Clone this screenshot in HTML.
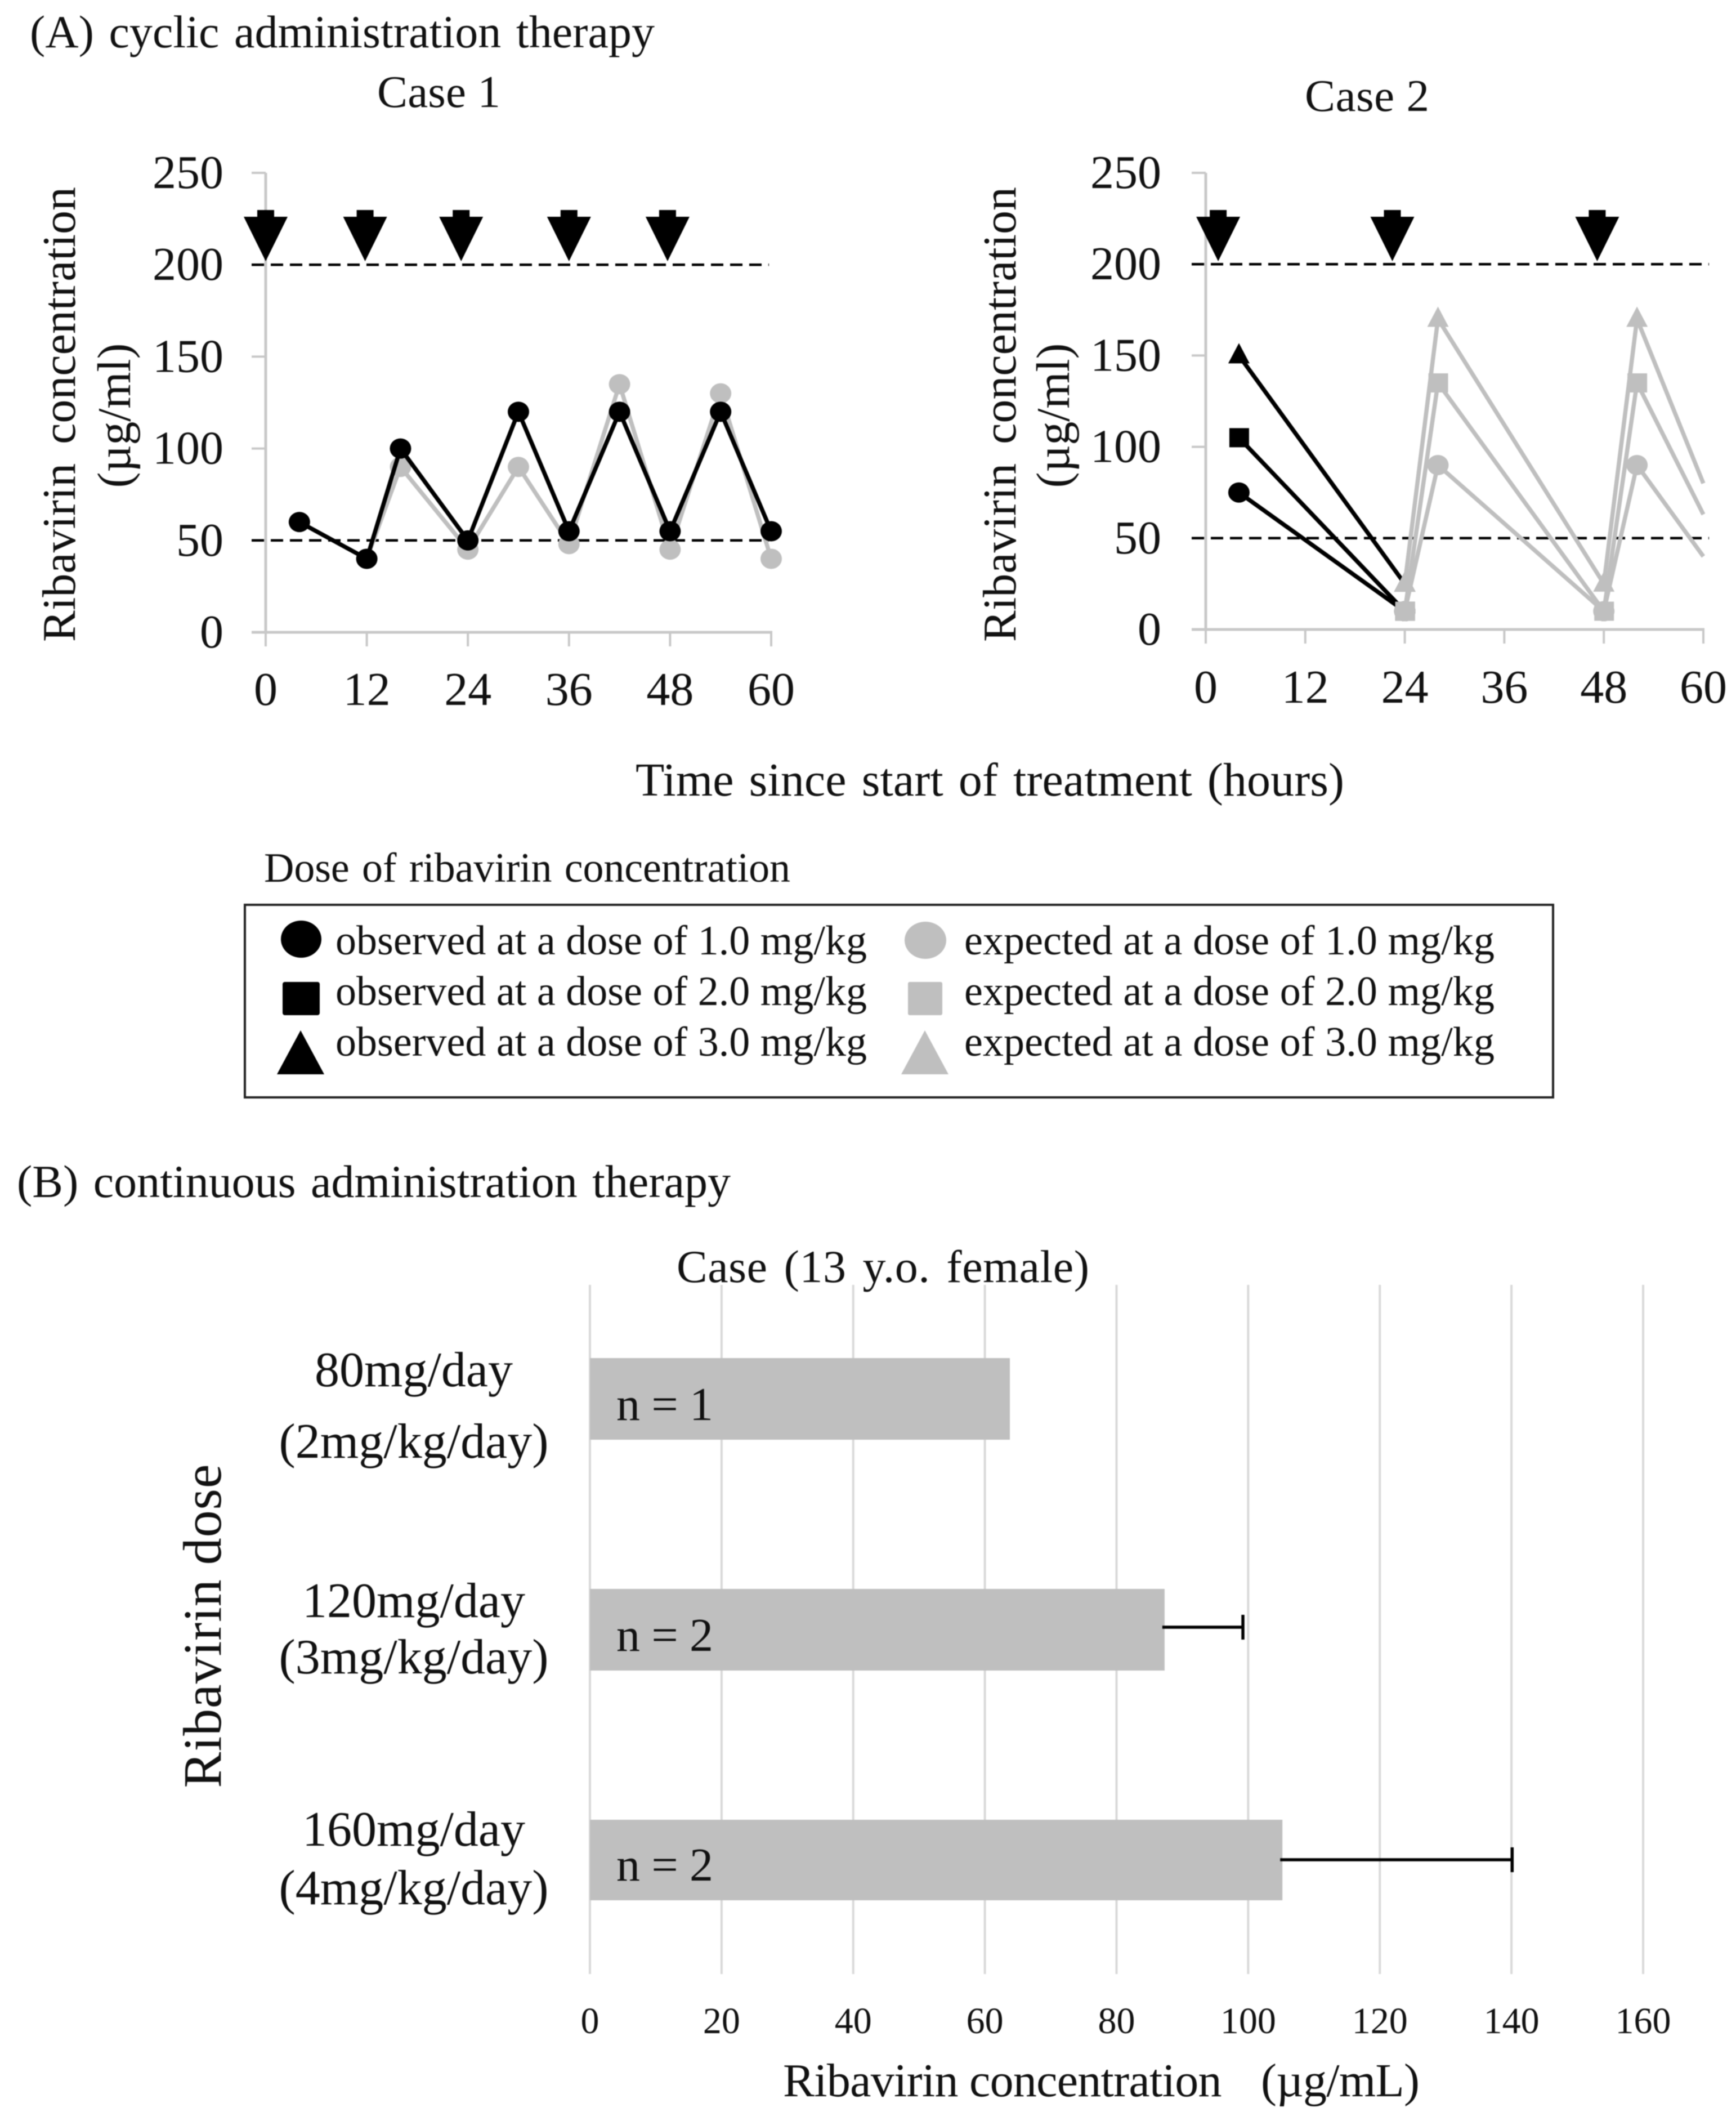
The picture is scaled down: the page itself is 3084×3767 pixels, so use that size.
<!DOCTYPE html>
<html>
<head>
<meta charset="utf-8">
<title>Ribavirin concentration</title>
<style>
html,body{margin:0;padding:0;background:#fff;}
svg{display:block;filter:blur(0.8px);}
text{font-family:"Liberation Serif","Noto Serif CJK SC",serif;fill:#111;}
</style>
</head>
<body>
<svg id="fig" xmlns="http://www.w3.org/2000/svg" width="3084" height="3767" viewBox="0 0 3084 3767">
<rect x="0" y="0" width="3084" height="3767" fill="#fff"/>
<text x="53" y="84" font-size="82" word-spacing="6" textLength="1110">(A) cyclic administration therapy</text>
<text x="670" y="190" font-size="81" textLength="219">Case 1</text>
<text x="2318" y="197" font-size="81" textLength="221">Case 2</text>

<text x="133" y="736" transform="rotate(-90 133 736)" text-anchor="middle" font-size="84" word-spacing="13" textLength="808">Ribavirin concentration</text>
<text x="231" y="738" transform="rotate(-90 231 738)" text-anchor="middle" font-size="84" textLength="257">(µg/ml)</text>
<text x="1804" y="736" transform="rotate(-90 1804 736)" text-anchor="middle" font-size="84" word-spacing="13" textLength="808">Ribavirin concentration</text>
<text x="1899" y="738" transform="rotate(-90 1899 738)" text-anchor="middle" font-size="84" textLength="257">(µg/ml)</text>
<text x="1129" y="1413" font-size="84" word-spacing="6" textLength="1259">Time since start of treatment (hours)</text>

<g id="case1"></g>
<g id="case2"></g>

<text x="469" y="1566" font-size="74" word-spacing="4" textLength="935">Dose of ribavirin concentration</text>
<g>
  <rect x="435" y="1607" width="2324" height="342" fill="#fff" stroke="#222" stroke-width="4"/>
  <ellipse cx="535" cy="1668" rx="36" ry="33" fill="#000"/>
  <rect x="502" y="1744" width="66" height="59" rx="4" fill="#000"/>
  <polygon points="534,1830 492,1908 576,1908" fill="#000"/>
  <ellipse cx="1644" cy="1670" rx="37" ry="33" fill="#bfbfbf"/>
  <rect x="1613" y="1744" width="61" height="59" rx="3" fill="#bfbfbf"/>
  <polygon points="1643,1830 1601,1908 1685,1908" fill="#bfbfbf"/>
  <text x="596" y="1695" font-size="74" textLength="944">observed at a dose of 1.0 mg/kg</text>
  <text x="596" y="1785" font-size="74" textLength="944">observed at a dose of 2.0 mg/kg</text>
  <text x="596" y="1875" font-size="74" textLength="944">observed at a dose of 3.0 mg/kg</text>
  <text x="1713" y="1695" font-size="74" textLength="942">expected at a dose of 1.0 mg/kg</text>
  <text x="1713" y="1785" font-size="74" textLength="942">expected at a dose of 2.0 mg/kg</text>
  <text x="1713" y="1875" font-size="74" textLength="942">expected at a dose of 3.0 mg/kg</text>
</g>

<text x="30" y="2126" font-size="82" word-spacing="6" textLength="1268">(B) continuous administration therapy</text>
<text x="1202" y="2277" font-size="82" word-spacing="8" textLength="733">Case (13 y.o. female)</text>
<text x="392" y="2888" transform="rotate(-90 392 2888)" text-anchor="middle" font-size="96" textLength="575">Ribavirin dose</text>
<text x="1391" y="3723" font-size="84" textLength="1131">Ribavirin concentration<tspan word-spacing="50"> (µg/mL)</tspan></text>
<g id="bars"></g>
</svg>

<script>
// Case 1 data
var case1Times = [4, 12, 16, 24, 30, 36, 42, 48, 54, 60];
var case1Observed = [60, 40, 100, 50, 120, 55, 120, 55, 120, 55];
var case1ExpectedTimes = [12, 16, 24, 30, 36, 42, 48, 54, 60];
var case1Expected = [40, 90, 45, 90, 48, 135, 45, 130, 40];
var case1Doses = [0, 11.8, 23.2, 36, 47.7];

// Case 2 data
var case2ObservedTimes = [4, 24];
var case2Observed1 = [75, 10];
var case2Observed2 = [105, 10];
var case2Observed3 = [150, 25];
var case2ExpectedTimes = [24, 28, 48, 52, 60];
var case2Expected1 = [10, 90, 10, 90, 40];
var case2Expected2 = [10, 135, 10, 135, 63];
var case2Expected3 = [25, 170, 25, 170, 80];
var case2Doses = [1.5, 22.5, 47.2];

// Shared axis ticks
var lineXTicks = [0, 12, 24, 36, 48, 60];
var lineYTicks = [0, 50, 100, 150, 200, 250];
var thresholds = [50, 200];

// Bar chart data
var doseLine1 = ["80mg/day", "120mg/day", "160mg/day"];
var doseLine2 = ["(2mg/kg/day)", "(3mg/kg/day)", "(4mg/kg/day)"];
var barSampleLabels = ["n = 1", "n = 2", "n = 2"];
var barValues = [63.8, 87.3, 105.2];
var barErrorEnds = [null, 99.2, 140.1];
var barXTicks = [0, 20, 40, 60, 80, 100, 120, 140, 160];

var NS = "http://www.w3.org/2000/svg";
var GRAY = "#bfbfbf";
var BLACK = "#000";

function make(tag, attrs, parent, txt) {
  var e = document.createElementNS(NS, tag);
  for (var k in attrs) { e.setAttribute(k, attrs[k]); }
  if (txt !== undefined) { e.textContent = txt; }
  parent.appendChild(e);
  return e;
}

function scale(d0, d1, r0, r1) {
  return function (v) { return r0 + (v - d0) * (r1 - r0) / (d1 - d0); };
}

function drawMarker(kind, cx, cy, color, parent) {
  if (kind === "circle") {
    return make("ellipse", { cx: cx, cy: cy, rx: 19, ry: 18, fill: color }, parent);
  }
  if (kind === "square") {
    return make("rect", { x: cx - 17, y: cy - 17, width: 35, height: 34, fill: color }, parent);
  }
  return make("polygon", { points: cx + "," + (cy - 22) + " " + (cx - 19) + "," + (cy + 14) + " " + (cx + 19) + "," + (cy + 14), fill: color }, parent);
}

function drawSeries(g, xs, ys, sx, sy, color, kind, name) {
  var pts = xs.map(function (x, i) { return sx(x) + "," + sy(ys[i]); }).join(" ");
  var line = make("polyline", { points: pts, fill: "none", stroke: color, "stroke-width": 7.5, "stroke-linejoin": "round" }, g);
  
  
  xs.forEach(function (x, i) {
    var m = drawMarker(kind, sx(x), sy(ys[i]), color, g);
    
    
  });
}

function drawLineFrame(g, sx, sy, cfg) {
  var axisY = make("line", { x1: sx(0), x2: sx(0), y1: sy(250), y2: sy(0), stroke: "#c8c8c8", "stroke-width": 5 }, g);
  
  
  var axisX = make("line", { x1: cfg.tickLeft, x2: sx(60) + 2, y1: sy(0), y2: sy(0), stroke: "#c8c8c8", "stroke-width": 5 }, g);
  
  
  lineYTicks.forEach(function (v) {
    var t = make("line", { x1: cfg.tickLeft, x2: sx(0), y1: sy(v), y2: sy(v), stroke: "#c8c8c8", "stroke-width": 4 }, g);
    
    
    var l = make("text", { x: cfg.yLabelRight, y: sy(v) + 27, "text-anchor": "end", "font-size": 84 }, g, String(v));
    
    
  });
  lineXTicks.forEach(function (v) {
    var t = make("line", { x1: sx(v), x2: sx(v), y1: sy(0), y2: sy(0) + 25, stroke: "#c8c8c8", "stroke-width": 4 }, g);
    
    
    var l = make("text", { x: sx(v), y: cfg.xLabelBase, "text-anchor": "middle", "font-size": 84 }, g, String(v));
    
    
  });
  thresholds.forEach(function (v) {
    var d = make("line", { x1: cfg.tickLeft, x2: cfg.dashRight, y1: sy(v), y2: sy(v), stroke: "#000", "stroke-width": 4.5, "stroke-dasharray": "22 12" }, g);
    
    
  });
}

function drawDoses(g, doses, sx) {
  doses.forEach(function (h) {
    var cx = sx(h);
    var pts = [
      [cx - 15, 373], [cx + 15, 373], [cx + 15, 385], [cx + 39, 385],
      [cx, 464], [cx - 39, 385], [cx - 15, 385]
    ].map(function (p) { return p[0] + "," + p[1]; }).join(" ");
    var a = make("polygon", { points: pts, fill: "#000" }, g);
    
    
  });
}

// Case 1
(function () {
  var g = document.getElementById("case1");
  var sx = scale(0, 60, 472, 1370);
  var sy = scale(0, 250, 1123, 307);
  drawLineFrame(g, sx, sy, { tickLeft: 447, yLabelRight: 397, xLabelBase: 1252, dashRight: 1366 });
  drawDoses(g, case1Doses, sx);
  drawSeries(g, case1ExpectedTimes, case1Expected, sx, sy, GRAY, "circle", "case-1-expected");
  drawSeries(g, case1Times, case1Observed, sx, sy, BLACK, "circle", "case-1-observed");
})();

// Case 2
(function () {
  var g = document.getElementById("case2");
  var sx = scale(0, 60, 2142, 3026);
  var sy = scale(0, 250, 1118, 307);
  drawLineFrame(g, sx, sy, { tickLeft: 2117, yLabelRight: 2063, xLabelBase: 1248, dashRight: 3036 });
  drawDoses(g, case2Doses, sx);
  drawSeries(g, case2ObservedTimes, case2Observed3, sx, sy, BLACK, "triangle", "case-2-observed-3");
  drawSeries(g, case2ObservedTimes, case2Observed2, sx, sy, BLACK, "square", "case-2-observed-2");
  drawSeries(g, case2ObservedTimes, case2Observed1, sx, sy, BLACK, "circle", "case-2-observed-1");
  var gx = case2ExpectedTimes.slice(0, 4);
  var tail = case2ExpectedTimes.slice(3);
  [[case2Expected3, "triangle", "case-2-expected-3"],
   [case2Expected2, "square", "case-2-expected-2"],
   [case2Expected1, "circle", "case-2-expected-1"]].forEach(function (s) {
    drawSeries(g, gx, s[0].slice(0, 4), sx, sy, GRAY, s[1], s[2]);
    var pts = tail.map(function (x, i) { return sx(x) + "," + sy(s[0][i + 3]); }).join(" ");
    var l = make("polyline", { points: pts, fill: "none", stroke: GRAY, "stroke-width": 7.5 }, g);
    
    
  });
})();

// Bar chart
(function () {
  var g = document.getElementById("bars");
  var sx = scale(0, 160, 1048, 2919);
  var bandTop = 2412;
  var bandStep = 410;
  var barH = 145;
  barXTicks.forEach(function (v) {
    var t = make("line", { x1: sx(v), x2: sx(v), y1: 2282, y2: 3506, stroke: "#d9d9d9", "stroke-width": 4 }, g);
    
    
    var l = make("text", { x: sx(v), y: 3611, "text-anchor": "middle", "font-size": 66 }, g, String(v));
    
    
  });
  barValues.forEach(function (v, i) {
    var top = bandTop + i * bandStep;
    var b = make("rect", { x: sx(0), y: top, width: sx(v) - sx(0), height: barH - (i === 2 ? 2 : 0), fill: GRAY }, g);
    
    
    var n = make("text", { x: 1095, y: top + 110 - (i === 2 ? 2 : 0), "font-size": 84, textLength: 172 }, g, barSampleLabels[i]);
    
    
    var l1 = make("text", { x: 735, y: top + 50 - (i === 2 ? 4 : 0), "text-anchor": "middle", "font-size": 88 }, g, doseLine1[i]);
    
    
    var l2 = make("text", { x: 735, y: top + 150 + (i === 0 ? 27 : 0), "text-anchor": "middle", "font-size": 88 }, g, doseLine2[i]);
    
    
    if (barErrorEnds[i] !== null) {
      var ey = top + 68 + (i === 2 ? 3 : 0);
      var e = make("line", { x1: sx(v) - 4, x2: sx(barErrorEnds[i]), y1: ey, y2: ey, stroke: "#000", "stroke-width": 5.5 }, g);
      
      
      var c = make("line", { x1: sx(barErrorEnds[i]), x2: sx(barErrorEnds[i]), y1: ey - 22, y2: ey + 22, stroke: "#000", "stroke-width": 5.5 }, g);
      
      
    }
  });
})();
</script>
</body>
</html>
